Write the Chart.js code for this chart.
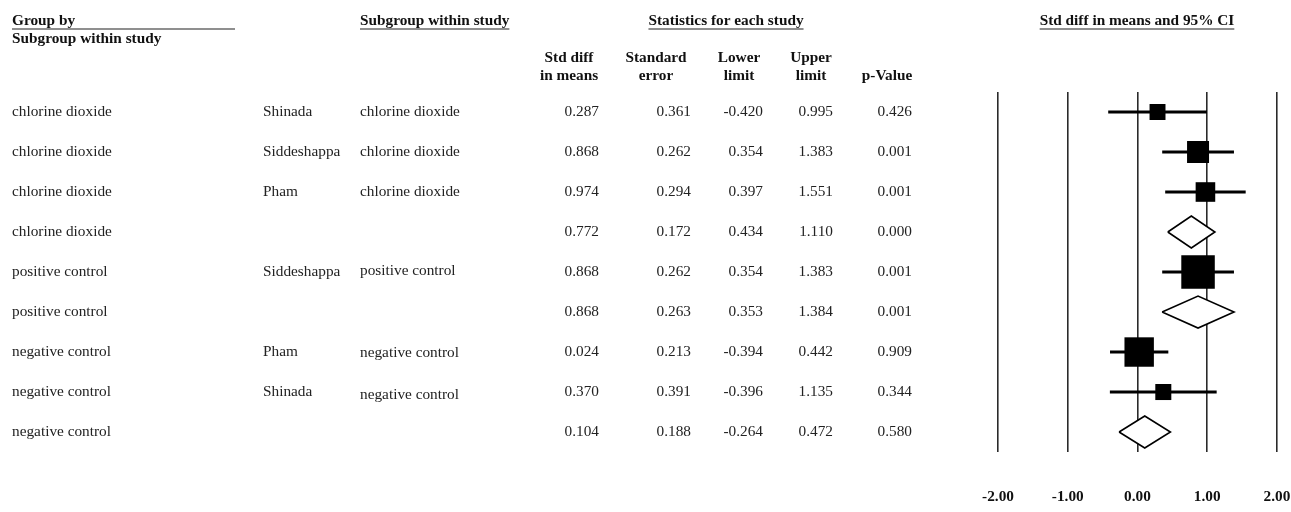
<!DOCTYPE html>
<html>
<head>
<meta charset="utf-8">
<script src="https://cdn.jsdelivr.net/npm/chart.js@4.4.1/dist/chart.umd.min.js"></script>
<style>
html,body{margin:0;padding:0;background:#fff;}
#wrap{width:1291px;height:512px;position:relative;overflow:hidden;}
</style>
</head>
<body>
<div id="wrap"><canvas id="c" width="1291" height="512"></canvas></div>
<script>
// ---------- data ----------
const groups    = ['chlorine dioxide','chlorine dioxide','chlorine dioxide','chlorine dioxide',
                   'positive control','positive control',
                   'negative control','negative control','negative control'];
const studies   = ['Shinada','Siddeshappa','Pham','','Siddeshappa','','Pham','Shinada',''];
const subgroups = ['chlorine dioxide','chlorine dioxide','chlorine dioxide','','positive control','',
                   'negative control','negative control',''];
const stdDiff   = [0.287, 0.868, 0.974, 0.772, 0.868, 0.868, 0.024, 0.370, 0.104];
const stdErr    = [0.361, 0.262, 0.294, 0.172, 0.262, 0.263, 0.213, 0.391, 0.188];
const lowerLim  = [-0.420, 0.354, 0.397, 0.434, 0.354, 0.353, -0.394, -0.396, -0.264];
const upperLim  = [0.995, 1.383, 1.551, 1.110, 1.383, 1.384, 0.442, 1.135, 0.472];
const pValues   = ['0.426','0.001','0.001','0.000','0.001','0.001','0.909','0.344','0.580'];
const isSummary = [false, false, false, true, false, true, false, false, true];
const xTicks    = [-2, -1, 0, 1, 2];

const headerGroupBy   = 'Group by';
const headerSubgroup  = 'Subgroup within study';
const headerStats     = 'Statistics for each study';
const headerPlot      = 'Std diff in means and 95% CI';
const colHeaders      = [['Std diff','in means'],['Standard','error'],['Lower','limit'],['Upper','limit'],['','p-Value']];

// ---------- setup ----------
const FONT = '"Liberation Serif", "Times New Roman", serif';
const FS = 15.3;
Chart.defaults.font.family = FONT;

const studyIdx = [];
const summaryIdx = [];
isSummary.forEach((s, i) => (s ? summaryIdx : studyIdx).push(i));

// box side proportional to sqrt of relative weight (1/SE^2) within subgroup
const MAX_BOX = 33.5;
function boxSide(i) {
  let sum = 0;
  groups.forEach((g, j) => { if (g === groups[i] && !isSummary[j]) sum += 1 / (stdErr[j] * stdErr[j]); });
  return MAX_BOX * Math.sqrt((1 / (stdErr[i] * stdErr[i])) / sum);
}

const datasets = [];
// study squares
datasets.push({
  type: 'scatter',
  label: 'Study estimate',
  order: 0,
  data: studyIdx.map(i => ({ x: stdDiff[i], y: i })),
  pointStyle: 'rect',
  pointRadius: studyIdx.map(i => boxSide(i) / Math.SQRT2),
  pointHoverRadius: studyIdx.map(i => boxSide(i) / Math.SQRT2),
  backgroundColor: '#000',
  borderColor: '#000',
  borderWidth: 0
});
// CI lines
studyIdx.forEach(i => {
  datasets.push({
    type: 'line',
    label: 'CI ' + i,
    order: 1,
    data: [{ x: lowerLim[i], y: i }, { x: upperLim[i], y: i }],
    borderColor: '#000',
    borderWidth: 3,
    pointRadius: 0,
    fill: false
  });
});
// summary diamonds
const DH = 0.4;
summaryIdx.forEach(i => {
  datasets.push({
    type: 'line',
    label: 'Summary ' + i,
    order: 2,
    data: [
      { x: lowerLim[i], y: i },
      { x: stdDiff[i], y: i - DH },
      { x: upperLim[i], y: i },
      { x: stdDiff[i], y: i + DH },
      { x: lowerLim[i], y: i }
    ],
    borderColor: '#000',
    borderWidth: 1.6,
    backgroundColor: '#fff',
    fill: 'shape',
    pointRadius: 0,
    tension: 0
  });
});

// ---------- table text plugin ----------
const tablePlugin = {
  id: 'tableText',
  afterDraw(chart) {
    const ctx = chart.ctx;
    const ys = chart.scales.y;
    const bold = `bold ${FS}px ${FONT}`;
    const reg = `${FS}px ${FONT}`;
    ctx.save();
    ctx.textBaseline = 'middle';
    function txt(s, x, y, align, font, color) {
      ctx.font = font; ctx.fillStyle = color; ctx.textAlign = align; ctx.fillText(s, x, y);
    }
    function ul(x1, x2, y) {
      ctx.strokeStyle = '#6a6a6a'; ctx.lineWidth = 1.3;
      ctx.beginPath(); ctx.moveTo(x1, y); ctx.lineTo(x2, y); ctx.stroke();
    }
    function ulText(s, x, y, align) {
      txt(s, x, y, align, bold, '#111');
      const w = ctx.measureText(s).width;
      const x1 = align === 'center' ? x - w / 2 : x;
      ul(x1, x1 + w, y + 8);
    }
    // top headers
    txt(headerGroupBy, 12, 21, 'left', bold, '#111');
    ul(12, 235, 29);
    txt(headerSubgroup, 12, 39, 'left', bold, '#111');
    ulText(headerSubgroup, 360, 21, 'left');
    ulText(headerStats, 726, 21, 'center');
    ulText(headerPlot, 1137, 21, 'center');
    // column headers
    const colCenters = [569, 656, 739, 811, 887];
    colHeaders.forEach((h, k) => {
      if (h[0]) txt(h[0], colCenters[k], 58, 'center', bold, '#111');
      txt(h[1], colCenters[k], 76.5, 'center', bold, '#111');
    });
    // rows
    const numRight = [599, 691, 763, 833, 912];
    const col3Off = [0, 0, 0, 0, -1.5, 0, 1, 3, 0];
    groups.forEach((g, i) => {
      const y = ys.getPixelForValue(i);
      txt(g, 12, y, 'left', reg, '#222');
      if (studies[i]) txt(studies[i], 263, y, 'left', reg, '#222');
      if (subgroups[i]) txt(subgroups[i], 360, y + col3Off[i], 'left', reg, '#222');
      const vals = [stdDiff[i].toFixed(3), stdErr[i].toFixed(3), lowerLim[i].toFixed(3), upperLim[i].toFixed(3), pValues[i]];
      vals.forEach((v, k) => txt(v, numRight[k], y, 'right', reg, '#222'));
    });
    ctx.restore();
  }
};

new Chart(document.getElementById('c'), {
  type: 'scatter',
  data: { datasets },
  plugins: [tablePlugin],
  options: {
    responsive: false,
    animation: false,
    devicePixelRatio: 1,
    events: [],
    layout: { autoPadding: false, padding: { left: 998, right: 14, top: 92, bottom: 5.6 } },
    plugins: { legend: { display: false }, tooltip: { enabled: false } },
    scales: {
      x: {
        type: 'linear',
        min: -2, max: 2,
        afterBuildTicks: axis => { axis.ticks = xTicks.map(v => ({ value: v })); },
        afterFit: axis => { axis.paddingLeft = 0; axis.paddingRight = 0; },
        ticks: {
          callback: v => Number(v).toFixed(2),
          font: { size: FS, weight: 'bold', family: FONT },
          color: '#111',
          padding: 0,
          maxRotation: 0,
          autoSkip: false
        },
        grid: { color: '#2a2a2a', lineWidth: 1.6, drawTicks: true, tickLength: 36, tickColor: 'rgba(0,0,0,0)' },
        border: { display: false }
      },
      y: { type: 'linear', min: -0.5, max: 8.5, reverse: true, display: false }
    }
  }
});
</script>
</body>
</html>
